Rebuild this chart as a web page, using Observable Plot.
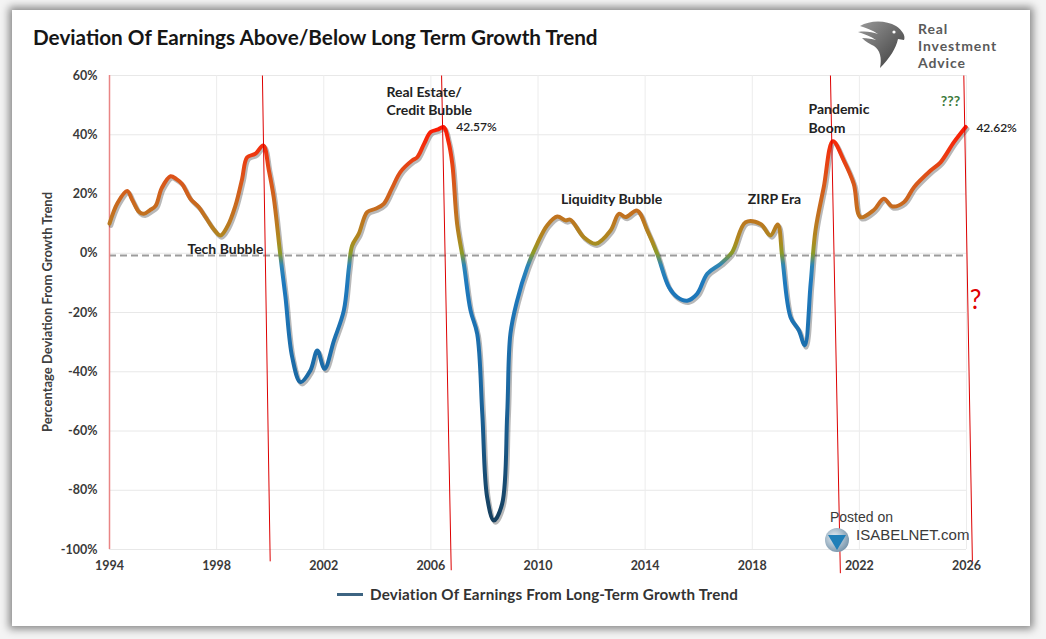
<!DOCTYPE html>
<html>
<head>
<meta charset="utf-8">
<script src="https://cdn.jsdelivr.net/npm/d3@7"></script>
<script src="https://cdn.jsdelivr.net/npm/@observablehq/plot@0.6"></script>
<style>
  html, body { margin: 0; padding: 0; width: 1046px; height: 639px; overflow: hidden; background: #f4f4f4; font-family: Lato, "Noto Sans", sans-serif; }
  #card { position: absolute; left: 12px; top: 10px; width: 1018px; height: 616px; background: #fff; box-shadow: 0 0 8px 3px rgba(0,0,0,0.45); }
  #chart { position: absolute; left: 0; top: 0; }
  #title { position: absolute; left: 33px; top: 25px; font-size: 20.7px; font-weight: 700; color: #161616; white-space: nowrap; }
  #ylabel { position: absolute; left: 47px; top: 312px; transform: translate(-50%, -50%) rotate(-90deg); font-size: 13px; font-weight: 700; color: #404040; white-space: nowrap; }
  #legend { position: absolute; left: 337px; top: 585px; font-size: 15.2px; font-weight: 700; color: #333; white-space: nowrap; display: flex; align-items: center; letter-spacing: 0.2px; }
  #legend .sw { display: inline-block; width: 26px; height: 3px; background: #3d6482; margin-right: 7px; }
  #logo { position: absolute; left: 856px; top: 18px; }
  .logoline { position: absolute; left: 918px; font-size: 14px; line-height: 14px; letter-spacing: 0.9px; font-weight: 700; color: #5a5a5a; white-space: nowrap; }
  #posted { position: absolute; left: 830px; top: 508px; font-family: "Liberation Sans Narrow", "Liberation Sans", Arial, sans-serif; font-size: 14px; color: #3a3a3a; line-height: 18px; }
  #posted .brand { margin-left: 26px; font-size: 15px; }
  #globe { position: absolute; left: 823px; top: 526px; }
</style>
</head>
<body>
<div id="card"></div>
<div id="title">Deviation Of Earnings Above/Below Long Term Growth Trend</div>
<svg id="logo" width="52" height="52" viewBox="0 0 52 52">
  <defs>
    <linearGradient id="eg" x1="0" y1="0" x2="1" y2="1">
      <stop offset="0" stop-color="#9a9a9a"/>
      <stop offset="1" stop-color="#3a3a3a"/>
    </linearGradient>
  </defs>
  <path d="M4 8 C14 2 30 2 40 8 C46 12 50 18 48 22 L42 21 C40 30 34 40 24 50 C26 40 24 32 18 28 C14 26 10 24 6 20 C12 20 16 21 20 22 C14 18 8 16 2 14 C10 13 16 14 22 16 C16 12 10 10 4 8 Z" fill="url(#eg)"/>
  <circle cx="38" cy="14" r="1.6" fill="#fff"/>
</svg>
<div class="logoline" style="top:22px">Real</div>
<div class="logoline" style="top:39px">Investment</div>
<div class="logoline" style="top:56px">Advice</div>
<div id="chart"></div>
<div id="ylabel">Percentage Deviation From Growth Trend</div>
<svg id="globe" width="28" height="28" viewBox="0 0 28 28">
  <defs>
    <radialGradient id="gg" cx="0.4" cy="0.4" r="0.7">
      <stop offset="0" stop-color="#e8f0f6"/>
      <stop offset="1" stop-color="#6c8ca4"/>
    </radialGradient>
  </defs>
  <circle cx="14" cy="14" r="12" fill="url(#gg)"/>
  <path d="M5 9 L23 9 L14 24 Z" fill="#1f7fb8"/>
</svg>
<div id="posted">Posted on<br><span class="brand">ISABELNET.com</span></div>
<div id="legend"><span class="sw"></span>Deviation Of Earnings From Long-Term Growth Trend</div>

<script>
// ---- Data ----
const years = [
  1994.0, 1994.3, 1994.66, 1994.85, 1995.1, 1995.28, 1995.5, 1995.72, 1995.95, 1996.28,
  1996.5, 1996.71, 1997.02, 1997.33, 1997.6, 1997.9, 1998.14, 1998.4, 1998.7, 1998.95,
  1999.14, 1999.45, 1999.74, 1999.95, 2000.13, 2000.38, 2000.57, 2000.82, 2001.13, 2001.5,
  2001.76, 2002.03, 2002.38, 2002.75, 2002.94, 2003.06, 2003.31, 2003.62, 2003.93, 2004.24,
  2004.55, 2004.86, 2005.3, 2005.49, 2005.75, 2005.99, 2006.24, 2006.48, 2006.65, 2006.8,
  2006.98, 2007.23, 2007.48, 2007.73, 2007.92, 2008.1, 2008.35, 2008.66, 2008.85, 2008.97,
  2009.22, 2009.6, 2009.97, 2010.34, 2010.72, 2011.03, 2011.21, 2011.71, 2012.15, 2012.71,
  2013.02, 2013.27, 2013.7, 2014.08, 2014.45, 2014.89, 2015.2, 2015.57, 2015.94, 2016.32,
  2016.81, 2017.25, 2017.75, 2018.31, 2018.68, 2018.95, 2019.12, 2019.43, 2019.74, 2019.96,
  2020.18, 2020.36, 2020.67, 2021.01, 2021.42, 2021.79, 2022.04, 2022.54, 2022.91, 2023.23,
  2023.66, 2024.04, 2024.66, 2025.03, 2025.53, 2025.97
];
const deviation = [
  10, 17, 21, 18, 14, 13.3, 14.5, 16, 22, 26,
  25, 23.4, 18.4, 15.6, 12, 8, 6, 9, 16, 25,
  32.4, 33.6, 36.4, 28, 19, -0.8, -14.8, -35, -43.5, -39.6,
  -32.8, -39, -29.5, -19.3, -4.7, 2.6, 6.6, 13.9, 15, 16.7,
  22, 27.4, 31.3, 32.4, 37, 40.9, 41.7, 42.57, 38, 30.2,
  9.9, -3.6, -19.3, -27.2, -54.2, -82.3, -90.2, -84.6, -54.2, -27.2,
  -16, -4.7, 3.2, 9.4, 12.4, 11.1, 11.3, 5.4, 3.2, 7.7,
  13.3, 12.2, 14.4, 7.7, -0.2, -11.5, -14.8, -16, -13.7, -6.9,
  -3.6, 0.4, 10.5, 9.9, 6, 9.7, -1.3, -21.6, -26, -31.1,
  -10.3, 7.7, 22.3, 37.8, 31.3, 23.4, 12.2, 14.6, 18.4, 15.8,
  17.2, 22.3, 27.9, 30.7, 37.5, 42.62
];

const xTicks = [1994, 1998, 2002, 2006, 2010, 2014, 2018, 2022, 2026];
const yTicks = [-100, -80, -60, -40, -20, 0, 20, 40, 60];
const referenceLevel = [-0.8];

// red marker lines (slightly slanted as drawn)
const markerTopX = [1999.71, 2006.4, 2020.92, 2025.9];
const markerTopY = [60, 60, 60, 60];
const markerBottomX = [2000.0, 2006.76, 2021.29, 2026.22];
const markerBottomY = [-104, -107, -108, -104];
const startLineX = [1994];

// annotations
const centerLabels = ["Tech Bubble", "Liquidity Bubble", "ZIRP Era"];
const centerLabelX = [1998.33, 2012.75, 2018.83];
const centerLabelY = [1.3, 18.1, 18.1];
const leftLabels = ["Real Estate/", "Credit Bubble", "Pandemic", "Boom"];
const leftLabelX = [2004.34, 2004.34, 2020.1, 2020.1];
const leftLabelY = [54.2, 48.2, 48.5, 42.1];
const valueLabels = ["42.57%", "42.62%"];
const valueLabelX = [2006.95, 2026.37];
const valueLabelY = [42.4, 42.1];
const questionGreen = ["???"];
const questionGreenX = [2025.4];
const questionGreenY = [51.2];
const questionRed = ["?"];
const questionRedX = [2026.34];
const questionRedY = [-16];

// colour gradient along the value axis
const gradValues = [45, 36, 24, 12, 4, 0, -4, -10, -45, -92];
const gradColors = ["#ff1200", "#f2300d", "#d8581b", "#bf7420", "#ac8a1f", "#8c9a28", "#2e86b6", "#1e79bd", "#1b68a2", "#163e5c"];

const data = years.map((year, i) => ({year, dev: deviation[i]}));

const plot = Plot.plot({
  width: 1046,
  height: 600,
  marginTop: 75,
  marginBottom: 51,
  marginLeft: 109,
  marginRight: 80,
  x: {domain: [1994, 2026]},
  y: {domain: [-100, 60]},
  style: {fontFamily: "Lato, 'Noto Sans', sans-serif", color: "#3a3a3a", background: "transparent", overflow: "visible"},
  marks: [
    Plot.ruleY(yTicks, {stroke: "#e8e8e8", strokeWidth: 1}),
    Plot.ruleX(xTicks, {stroke: "#ececec", strokeWidth: 1}),
    Plot.axisY({ticks: yTicks, tickFormat: d => d + "%", tickSize: 0, tickPadding: 12, label: null, fontWeight: "bold", fontSize: 12.5}),
    Plot.axisX({ticks: xTicks, tickFormat: d => String(d), tickSize: 0, tickPadding: 12, label: null, fontWeight: "bold", fontSize: 12.5}),
    Plot.ruleY(referenceLevel, {stroke: "#9c9c9c", strokeWidth: 2, strokeDasharray: "7,4"}),
    Plot.ruleX(startLineX, {y1: -100, y2: 60, stroke: "#e98585", strokeWidth: 1.5}),
    Plot.line(data, {x: "year", y: "dev", curve: "catmull-rom", stroke: "#000", strokeOpacity: 0.28, strokeWidth: 4.5, dx: 1.5, dy: 2, strokeLinejoin: "round", strokeLinecap: "round"}),
    Plot.line(data, {x: "year", y: "dev", curve: "catmull-rom", stroke: "#cc3300", strokeWidth: 4, strokeLinejoin: "round", strokeLinecap: "round", className: "devline", ariaDescription: "devline"}),
    Plot.link(markerTopX, {x1: markerTopX, y1: markerTopY, x2: markerBottomX, y2: markerBottomY, stroke: "#dd0000", strokeWidth: 1}),
    Plot.text(centerLabels, {x: centerLabelX, y: centerLabelY, text: d => d, textAnchor: "middle", fontWeight: "bold", fontSize: 14, fill: "#222"}),
    Plot.text(leftLabels, {x: leftLabelX, y: leftLabelY, text: d => d, textAnchor: "start", fontWeight: "bold", fontSize: 14, fill: "#222"}),
    Plot.text(valueLabels, {x: valueLabelX, y: valueLabelY, text: d => d, textAnchor: "start", fontWeight: 600, fontSize: 12, fill: "#222"}),
    Plot.text(questionGreen, {x: questionGreenX, y: questionGreenY, text: d => d, textAnchor: "middle", fontWeight: "bold", fontSize: 14, fill: "#3c7a3c"}),
    Plot.text(questionRed, {x: questionRedX, y: questionRedY, text: d => d, textAnchor: "middle", fontSize: 26, fill: "#e00000"})
  ]
});

// gradient defined from the plot's own y scale
const ys = plot.scale("y");
const gy1 = ys.apply(gradValues[0]);
const gy2 = ys.apply(gradValues[gradValues.length - 1]);
const NS = "http://www.w3.org/2000/svg";
const defs = document.createElementNS(NS, "defs");
const grad = document.createElementNS(NS, "linearGradient");
grad.setAttribute("id", "devgrad");
grad.setAttribute("gradientUnits", "userSpaceOnUse");
grad.setAttribute("x1", "0");
grad.setAttribute("x2", "0");
grad.setAttribute("y1", String(gy1));
grad.setAttribute("y2", String(gy2));
gradValues.forEach((v, i) => {
  const s = document.createElementNS(NS, "stop");
  s.setAttribute("offset", String((ys.apply(v) - gy1) / (gy2 - gy1)));
  s.setAttribute("stop-color", gradColors[i]);
  grad.appendChild(s);
});
defs.appendChild(grad);
plot.insertBefore(defs, plot.firstChild);
const lineG = plot.querySelector('g.devline') || plot.querySelector('g[aria-description="devline"]');
if (lineG) {
  lineG.setAttribute("stroke", "url(#devgrad)");
  lineG.querySelectorAll("path").forEach(p => p.setAttribute("stroke", "url(#devgrad)"));
}

document.getElementById("chart").appendChild(plot);
</script>
</body>
</html>
